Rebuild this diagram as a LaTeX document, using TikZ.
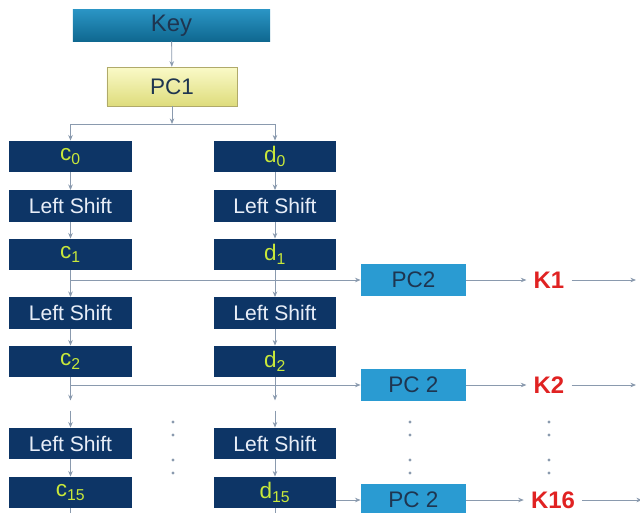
\documentclass[tikz,border=0pt]{standalone}
\usepackage{fontspec}
\setmainfont{Liberation Sans}
\usetikzlibrary{arrows.meta}
\definecolor{navy}{HTML}{0D3566}
\definecolor{regtext}{HTML}{E8EEF8}
\definecolor{subtext}{HTML}{C8E83A}
\definecolor{keytop}{HTML}{2A94C4}
\definecolor{keybot}{HTML}{0F6890}
\definecolor{darktext}{HTML}{1E3550}
\definecolor{pctop}{HTML}{FAFAC8}
\definecolor{pcbot}{HTML}{DEDC7C}
\definecolor{pcline}{HTML}{B0AA6A}
\definecolor{pctwo}{HTML}{2A9BD2}
\definecolor{kred}{HTML}{E02222}
\definecolor{wire}{HTML}{8A9AAE}

\tikzset{
  reg/.style={fill=navy, text=regtext, minimum width=3.05cm, minimum height=0.78cm, inner sep=0pt},
  sub/.style={reg, text=subtext, font=\fontsize{16}{18}\selectfont},
  keybox/.style={top color=keytop, bottom color=keybot, text=darktext, minimum width=4.93cm, minimum height=0.78cm, inner sep=0pt, font=\fontsize{17}{19}\selectfont},
  pcone/.style={top color=pctop, bottom color=pcbot, draw=pcline, text=darktext, minimum width=3.25cm, minimum height=0.97cm, inner sep=0pt, font=\fontsize{16}{18}\selectfont},
  pctwobox/.style={fill=pctwo, text=darktext, minimum width=2.63cm, minimum height=0.8cm, inner sep=0pt, font=\fontsize{16}{18}\selectfont},
  subkey/.style={text=kred, font=\fontsize{17}{19}\selectfont\bfseries, inner sep=5pt},
  wireline/.style={draw=wire, line width=0.6pt},
  link/.style={wireline, -{Stealth[length=4pt,width=3.2pt]}},
  dot/.style={fill=wire}
}

\begin{document}
\begin{tikzpicture}[x=0.025cm,y=-0.025cm,font=\fontsize{15}{17}\selectfont]
\useasboundingbox (0,0) rectangle (640,513);

% key schedule head
\node[keybox] (key) at (171.5,25.5) {Key};
\node[pcone] (pc1) at (172,86.5) {PC1};
\coordinate (split) at (172,124);

% c half
\node[sub] (c0) at (70.5,156.5) {c\textsubscript{0}};
\node[reg] (lsc1) at (70.5,206) {Left Shift};
\node[sub] (c1) at (70.5,254.5) {c\textsubscript{1}};
\node[reg] (lsc2) at (70.5,313) {Left Shift};
\node[sub] (c2) at (70.5,361.5) {c\textsubscript{2}};
\node[reg] (lsc3) at (70.5,443.5) {Left Shift};
\node[sub] (c15) at (70.5,492.5) {c\textsubscript{15}};

% d half
\node[sub] (d0) at (275,156.5) {d\textsubscript{0}};
\node[reg] (lsd1) at (275,206) {Left Shift};
\node[sub] (d1) at (275,254.5) {d\textsubscript{1}};
\node[reg] (lsd2) at (275,313) {Left Shift};
\node[sub] (d2) at (275,361.5) {d\textsubscript{2}};
\node[reg] (lsd3) at (275,443.5) {Left Shift};
\node[sub] (d15) at (275,492.5) {d\textsubscript{15}};

% round keys
\node[pctwobox] (pc2a) at (413.5,280) {PC2};
\node[pctwobox] (pc2b) at (413.5,385) {PC 2};
\node[pctwobox] (pc2c) at (413.5,500) {PC 2};
\node[subkey] (k1) at (549,280) {K1};
\node[subkey] (k2) at (549,385) {K2};
\node[subkey] (k16) at (553,500) {K16};
\coordinate (out1) at (636,280);
\coordinate (out2) at (636,385);
\coordinate (out16) at (642,500);

\draw[link] (key) -- (pc1);
\draw[link] (pc1) -- (split);
\draw[wireline] (c0.north |- split) -- (d0.north |- split);
\draw[link] (c0.north |- split) -- (c0);
\draw[link] (d0.north |- split) -- (d0);

\draw[link] (c0) -- (lsc1);
\draw[link] (lsc1) -- (c1);
\draw[link] (c1) -- (lsc2);
\draw[link] (lsc2) -- (c2);
\draw[link] (c2.south) -- ++(0,23);
\draw[link] (lsc3.north) ++(0,-17) -- (lsc3);
\draw[link] (lsc3) -- (c15);
\draw[wireline] (c15.south) -- ++(0,10);

\draw[link] (d0) -- (lsd1);
\draw[link] (lsd1) -- (d1);
\draw[link] (d1) -- (lsd2);
\draw[link] (lsd2) -- (d2);
\draw[link] (d2.south) -- ++(0,23);
\draw[link] (lsd3.north) ++(0,-17) -- (lsd3);
\draw[link] (lsd3) -- (d15);
\draw[wireline] (d15.south) -- ++(0,10);

\draw[link] (c1.south |- pc2a) -- (pc2a);
\draw[link] (c2.south |- pc2b) -- (pc2b);
\draw[link] (d15.east |- pc2c) -- (pc2c);

\draw[link] (pc2a) -- (k1);
\draw[link] (pc2b) -- (k2);
\draw[link] (pc2c) -- (k16);
\draw[link] (k1) -- (out1);
\draw[link] (k2) -- (out2);
\draw[link] (k16) -- (out16);

% ellipsis dots
\foreach \px in {173,410,549}
  \foreach \py in {422,435,460,473}
    \fill[dot] (\px,\py) circle (1.7);
\end{tikzpicture}
\end{document}
